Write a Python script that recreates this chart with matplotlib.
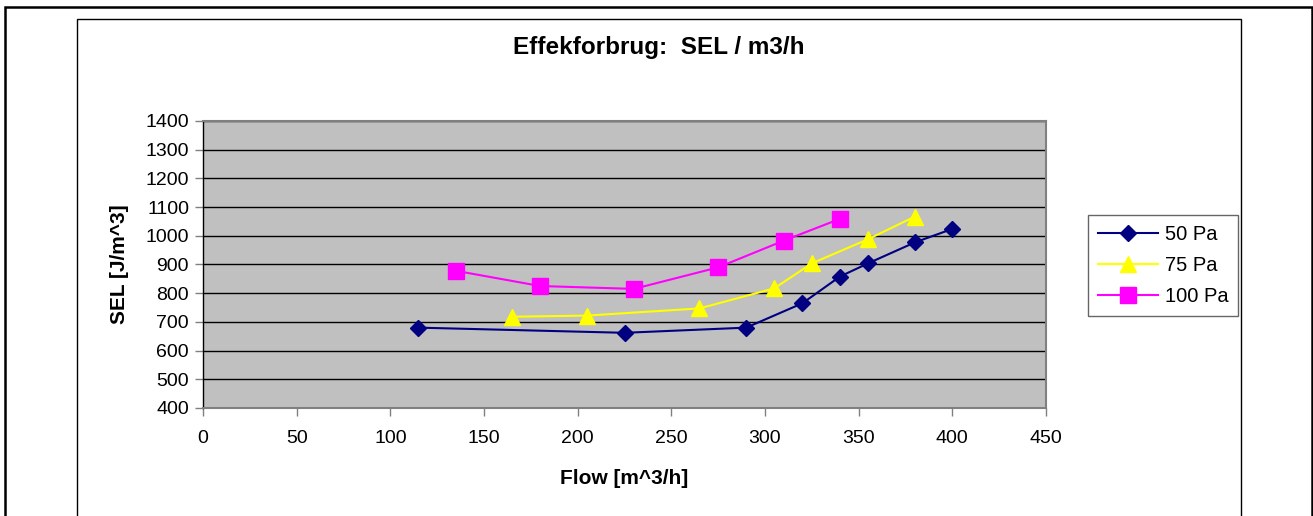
import matplotlib.pyplot as plt
from matplotlib.patches import Rectangle

plt.rcParams['font.family'] = ['Liberation Sans', 'DejaVu Sans']

# data
flow_50 = [115, 225, 290, 320, 340, 355, 380, 400]
sel_50 = [680, 662, 680, 765, 858, 904, 977, 1024]

flow_75 = [165, 205, 265, 305, 325, 355, 380]
sel_75 = [718, 722, 747, 817, 904, 988, 1067]

flow_100 = [135, 180, 230, 275, 310, 340]
sel_100 = [878, 825, 815, 890, 983, 1059]

series_names = ['50 Pa', '75 Pa', '100 Pa']

fig = plt.figure(figsize=(13.13, 5.16), dpi=100)
W, H = 1313, 516

# outer frames (Excel sheet style), bottoms run off the picture
fig.patches.append(Rectangle((5 / W, -0.1), 1307 / W, 1.1 - 7 / H, transform=fig.transFigure,
                             fill=False, edgecolor='black', linewidth=1.8, clip_on=False))
fig.patches.append(Rectangle((77 / W, -0.1), 1164 / W, 1.1 - 19 / H, transform=fig.transFigure,
                             fill=False, edgecolor='black', linewidth=1.0, clip_on=False))

ax = fig.add_axes([203 / W, 1 - 408 / H, (1046 - 203) / W, (408 - 121) / H])
ax.set_facecolor('#C0C0C0')

ax.plot(flow_50, sel_50, color='#000080', linewidth=1.5, marker='D', markersize=8,
        label=series_names[0])
ax.plot(flow_75, sel_75, color='#FFFF00', linewidth=1.5, marker='^', markersize=12,
        label=series_names[1])
ax.plot(flow_100, sel_100, color='#FF00FF', linewidth=1.5, marker='s', markersize=11.5,
        label=series_names[2])

ax.set_xlim(0, 450)
ax.set_ylim(400, 1400)
ax.set_xticks(range(0, 451, 50))
ax.set_yticks(range(400, 1401, 100))
ax.yaxis.grid(True, color='black', linewidth=1.0)
ax.set_axisbelow(True)
for sp in ax.spines.values():
    sp.set_color('#808080')
    sp.set_linewidth(1.5)
ax.spines['left'].set_color('black')
ax.spines['left'].set_linewidth(1.0)
ax.tick_params(direction='out', length=6, width=1.0, color='#808080', labelsize=14, pad=4)
ax.tick_params(axis='x', pad=10)

ax.set_xlabel('Flow [m^3/h]', fontsize=15, fontweight='bold', labelpad=16)
ax.set_ylabel('SEL [J/m^3]', fontsize=15, fontweight='bold', labelpad=12)

fig.text(659 / W, 1 - 48 / H, 'Effekforbrug:  SEL / m3/h', ha='center', va='center',
         fontsize=17.5, fontweight='bold')

leg = ax.legend(loc='upper left', bbox_to_anchor=((1088 - 203) / (1046 - 203), (408 - 215) / (408 - 121)),
                frameon=True, fancybox=False, fontsize=14.5, handlelength=3.0, borderpad=0.5,
                labelspacing=0.6, handletextpad=0.3, borderaxespad=0)
leg.get_frame().set_edgecolor('#404040')
leg.get_frame().set_linewidth(1.0)

fig.savefig('out.png', dpi=100)
